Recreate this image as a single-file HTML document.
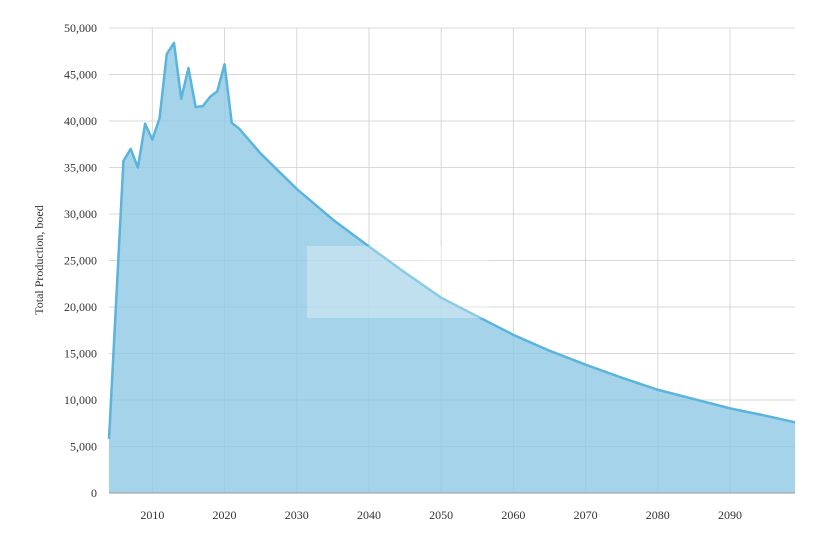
<!DOCTYPE html>
<html><head><meta charset="utf-8"><style>
body{margin:0;background:#fff;}
svg text{font-family:"Liberation Serif",serif;font-size:12px;fill:#333;}
</style></head><body>
<svg id="chart" width="820" height="537"></svg>
<script>
const years=[2004,2006,2007,2008,2009,2010,2011,2012,2013,2014,2015,2016,2017,2018,2019,2020,2021,2022,2025,2030,2035,2040,2045,2050,2055,2060,2065,2070,2075,2080,2085,2090,2095,2099];
const production=[5800,35700,37000,35000,39700,38000,40300,47200,48400,42400,45700,41500,41600,42600,43200,46100,39800,39200,36500,32700,29400,26500,23700,21000,19000,17000,15300,13800,12400,11100,10100,9100,8300,7600];
const yTicks=[0,5000,10000,15000,20000,25000,30000,35000,40000,45000,50000];
const xTicks=[2010,2020,2030,2040,2050,2060,2070,2080,2090];
const NS="http://www.w3.org/2000/svg";
const svg=document.getElementById('chart');
const x0=109,x1=795,y0=493,y1=28,xmin=2004,xmax=2099,ymax=50000;
const X=v=>x0+(v-xmin)/(xmax-xmin)*(x1-x0);
const Y=v=>y0-v/ymax*(y0-y1);
function mk(t,a){const e=document.createElementNS(NS,t);for(const k in a)e.setAttribute(k,a[k]);svg.appendChild(e);return e;}
yTicks.forEach(v=>{
 const l=mk('line',{x1:x0,x2:x1,y1:Y(v),y2:Y(v),stroke:'#d8d8d8','stroke-width':1});
 
 
 const t=mk('text',{x:97,y:Y(v)+4,'text-anchor':'end'});t.textContent=v.toLocaleString('en-US');
 
 
});
xTicks.forEach(v=>{
 const l=mk('line',{x1:X(v),x2:X(v),y1:y1,y2:y0,stroke:'#d8d8d8','stroke-width':1});
 
 
 const t=mk('text',{x:X(v),y:519,'text-anchor':'middle'});t.textContent=v;
 
 
});
let d='M'+X(years[0])+','+y0;
years.forEach((yr,i)=>{d+=' L'+X(yr)+','+Y(production[i]);});
d+=' L'+X(years[years.length-1])+','+y0+' Z';
const area=mk('path',{d:d,fill:'#8ec8e3','fill-opacity':0.8});


const ld=years.map((yr,i)=>(i?'L':'M')+X(yr)+','+Y(production[i])).join(' ');
const line=mk('path',{d:ld,fill:'none',stroke:'#5ab4dc','stroke-width':2.5,'stroke-linejoin':'round'});


const ov=mk('rect',{x:307,y:246,width:183,height:72,fill:'#fff','fill-opacity':0.3});


const ax=mk('line',{x1:x0,x2:x1,y1:y0,y2:y0,stroke:'#999','stroke-width':1});


const yt=mk('text',{x:0,y:0,transform:'translate(43,260) rotate(-90)','text-anchor':'middle'});
yt.textContent='Total Production, boed';


</script>
</body></html>
